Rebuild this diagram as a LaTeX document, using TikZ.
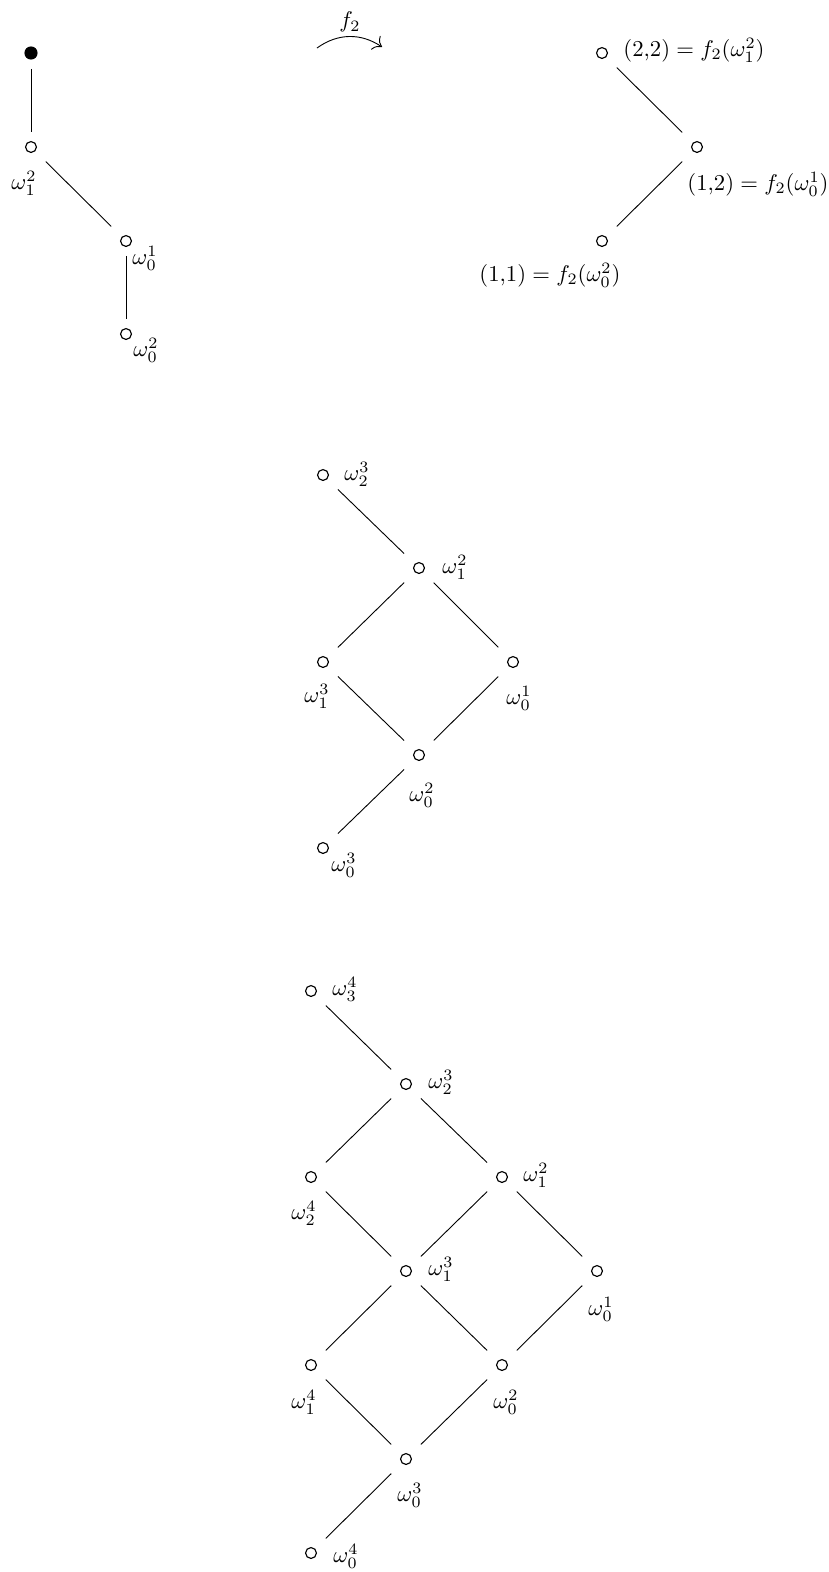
\documentclass[tikz,border=0pt]{standalone}
\usetikzlibrary{arrows.meta}
\begin{document}
\begin{tikzpicture}[x=0.4405pt,y=-0.4405pt,
  vtx/.style={circle,draw,line width=0.5pt,minimum size=4.8pt,inner sep=0pt},
  dotv/.style={circle,fill,minimum size=5.8pt,inner sep=0pt},
  vedge/.style={line width=0.4pt,shorten <=3.9pt,shorten >=3.9pt},
  dedge/.style={line width=0.4pt,shorten <=6.5pt,shorten >=6.5pt},
  lbl/.style={inner sep=0pt,font=\normalsize}]
\useasboundingbox (0,0) rectangle (828,1572);

% ---- first chain ----
\node[dotv] (t0) at (31,53) {};
\node[vtx] (t1) at (31,147) {};
\node[vtx] (t2) at (126,241) {};
\node[vtx] (t3) at (126,334) {};
\draw[vedge] (t0) -- (t1);
\draw[dedge] (t1) -- (t2);
\draw[vedge] (t2) -- (t3);
\node[lbl] (lt1) at (24,183) {$\omega_1^2$};
\node[lbl] (lt2) at (145,258) {$\omega_0^1$};
\node[lbl] (lt3) at (146,350) {$\omega_0^2$};

% ---- the map f_2 ----
\coordinate (fa) at (317,48);
\coordinate (fb) at (382,47);
\draw[line width=0.4pt,-{To[scale=1.4]}] (fa) to[bend left=35] (fb);
\node[lbl] (lf) at (350,22) {$f_2$};

% ---- image ----
\node[vtx] (r1) at (602,53) {};
\node[vtx] (r2) at (697,147) {};
\node[vtx] (r3) at (602,241) {};
\draw[dedge] (r1) -- (r2);
\draw[dedge] (r2) -- (r3);
\node[lbl] (lr1) at (694,50) {$(2{,}2)=f_2(\omega_1^2)$};
\node[lbl] (lr2) at (758,184) {$(1{,}2)=f_2(\omega_0^1)$};
\node[lbl] (lr3) at (550,275) {$(1{,}1)=f_2(\omega_0^2)$};

% ---- second lattice ----
\node[vtx] (m1) at (323,475) {};
\node[vtx] (m2) at (419,568) {};
\node[vtx] (m3) at (323,662) {};
\node[vtx] (m4) at (513,662) {};
\node[vtx] (m5) at (419,755) {};
\node[vtx] (m6) at (323,848) {};
\draw[dedge] (m1) -- (m2);
\draw[dedge] (m2) -- (m3);
\draw[dedge] (m2) -- (m4);
\draw[dedge] (m3) -- (m5);
\draw[dedge] (m4) -- (m5);
\draw[dedge] (m5) -- (m6);
\node[lbl] (lm1) at (357,474) {$\omega_2^3$};
\node[lbl] (lm2) at (455,567) {$\omega_1^2$};
\node[lbl] (lm3) at (317,696) {$\omega_1^3$};
\node[lbl] (lm4) at (519,698) {$\omega_0^1$};
\node[lbl] (lm5) at (422,795) {$\omega_0^2$};
\node[lbl] (lm6) at (344,865) {$\omega_0^3$};

% ---- third lattice ----
\node[vtx] (b1) at (311,991) {};
\node[vtx] (b2) at (406,1084) {};
\node[vtx] (b3) at (311,1177) {};
\node[vtx] (b4) at (502,1177) {};
\node[vtx] (b5) at (406,1271) {};
\node[vtx] (b6) at (597,1271) {};
\node[vtx] (b7) at (311,1365) {};
\node[vtx] (b8) at (502,1365) {};
\node[vtx] (b9) at (406,1459) {};
\node[vtx] (b10) at (311,1553) {};
\draw[dedge] (b1) -- (b2);
\draw[dedge] (b2) -- (b3);
\draw[dedge] (b2) -- (b4);
\draw[dedge] (b3) -- (b5);
\draw[dedge] (b4) -- (b5);
\draw[dedge] (b4) -- (b6);
\draw[dedge] (b5) -- (b7);
\draw[dedge] (b5) -- (b8);
\draw[dedge] (b6) -- (b8);
\draw[dedge] (b7) -- (b9);
\draw[dedge] (b8) -- (b9);
\draw[dedge] (b9) -- (b10);
\node[lbl] (lb1) at (345,989) {$\omega_3^4$};
\node[lbl] (lb2) at (441,1082) {$\omega_2^3$};
\node[lbl] (lb3) at (304,1213) {$\omega_2^4$};
\node[lbl] (lb4) at (536,1175) {$\omega_1^2$};
\node[lbl] (lb5) at (441,1269) {$\omega_1^3$};
\node[lbl] (lb6) at (601,1309) {$\omega_0^1$};
\node[lbl] (lb7) at (304,1402) {$\omega_1^4$};
\node[lbl] (lb8) at (506,1402) {$\omega_0^2$};
\node[lbl] (lb9) at (410,1495) {$\omega_0^3$};
\node[lbl] (lb10) at (346,1556) {$\omega_0^4$};
\end{tikzpicture}
\end{document}
